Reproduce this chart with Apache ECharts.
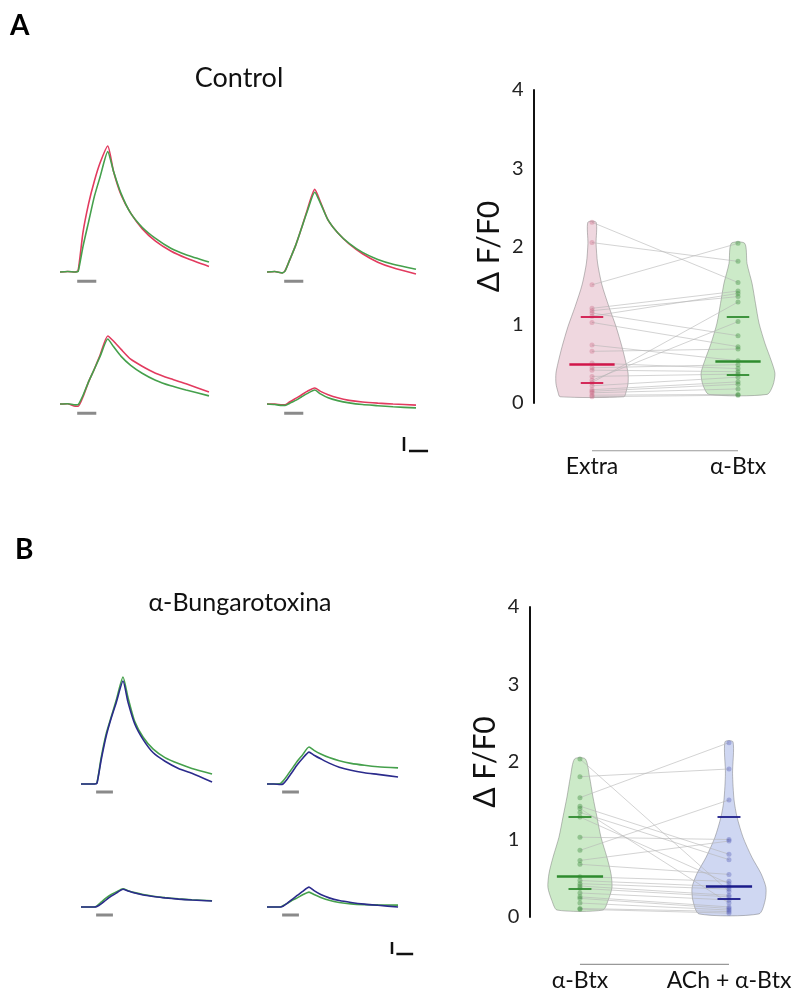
<!DOCTYPE html>
<html>
<head>
<meta charset="utf-8">
<script src="https://cdn.jsdelivr.net/npm/echarts@6/dist/echarts.min.js"></script>
<style>
  html, body { margin: 0; padding: 0; background: #fff; }
  #chart { width: 801px; height: 992px; }
</style>
</head>
<body>
<div id="chart"></div>
<script>
// time points (s) shared by all traces
var T = [0, 4, 8, 9.5, 12, 15, 18, 21, 25, 28, 32, 37, 43, 50, 58, 66, 78];
var stim = [9, 19];

// panel A traces (ΔF/F0): red = Extra, green = α-Btx
var a1Extra = [0, 0.02, 0, 0.05, 1.4, 2.45, 3.25, 3.9, 4.5, 3.6, 2.75, 2.1, 1.55, 1.1, 0.75, 0.5, 0.2];
var a1Btx   = [0, 0.02, 0, 0.02, 0.9, 1.8, 2.7, 3.4, 4.3, 3.6, 2.8, 2.1, 1.6, 1.2, 0.85, 0.62, 0.36];
var a2Extra = [0, 0.02, -0.03, 0.05, 0.45, 0.95, 1.55, 2.2, 2.95, 2.5, 1.85, 1.4, 1.0, 0.65, 0.35, 0.15, -0.07];
var a2Btx   = [0, 0.02, -0.03, 0.04, 0.45, 0.95, 1.55, 2.15, 2.85, 2.45, 1.85, 1.4, 1.02, 0.7, 0.45, 0.28, 0.1];
var a3Extra = [0, 0.01, -0.08, -0.08, 0.25, 0.8, 1.25, 1.75, 2.43, 2.25, 1.95, 1.6, 1.35, 1.1, 0.9, 0.72, 0.43];
var a3Btx   = [0, 0.01, -0.03, -0.02, 0.3, 0.8, 1.25, 1.7, 2.32, 2.05, 1.7, 1.38, 1.1, 0.85, 0.65, 0.5, 0.29];
var a4Extra = [0, 0, -0.03, -0.03, 0.08, 0.2, 0.32, 0.45, 0.57, 0.45, 0.33, 0.22, 0.13, 0.07, 0.03, 0, -0.04];
var a4Btx   = [0, -0.02, -0.05, -0.05, 0.03, 0.13, 0.25, 0.37, 0.5, 0.36, 0.22, 0.12, 0.04, -0.02, -0.06, -0.1, -0.14];

// panel B traces: green = α-Btx, blue = ACh + α-Btx
var b1Btx = [0, 0, 0, 0.05, 1.1, 2.1, 2.8, 3.5, 4.46, 3.6, 2.6, 1.95, 1.45, 1.1, 0.85, 0.65, 0.42];
var b1Ach = [0, 0, 0, 0.03, 1.0, 2.0, 2.75, 3.4, 4.29, 3.4, 2.5, 1.85, 1.3, 0.95, 0.65, 0.45, 0.08];
var b2Btx = [0, 0, 0.02, 0.12, 0.35, 0.65, 0.95, 1.2, 1.54, 1.4, 1.25, 1.1, 0.97, 0.86, 0.78, 0.72, 0.67];
var b2Ach = [0, 0, -0.02, 0, 0.2, 0.5, 0.8, 1.05, 1.33, 1.2, 1.05, 0.87, 0.7, 0.57, 0.47, 0.4, 0.29];
var b3Btx = [0, 0, 0, 0.05, 0.2, 0.38, 0.52, 0.63, 0.76, 0.68, 0.6, 0.52, 0.45, 0.39, 0.34, 0.3, 0.26];
var b3Ach = [0, 0, 0, 0.02, 0.13, 0.3, 0.45, 0.58, 0.74, 0.67, 0.58, 0.5, 0.44, 0.38, 0.33, 0.29, 0.25];
var b4Btx = [0, 0, 0, 0.05, 0.15, 0.28, 0.38, 0.5, 0.62, 0.52, 0.4, 0.28, 0.19, 0.13, 0.1, 0.09, 0.08];
var b4Ach = [0, 0, 0, 0.03, 0.15, 0.32, 0.48, 0.64, 0.83, 0.68, 0.52, 0.38, 0.27, 0.19, 0.12, 0.07, 0];

// paired amplitudes per cell
var extraA = [2.31, 2.05, 1.51, 1.21, 1.18, 1.15, 1.11, 1.03, 0.74, 0.66, 0.51, 0.45, 0.42, 0.34, 0.29, 0.26, 0.22, 0.17, 0.15, 0.13, 0.10, 0.08];
var btxA   = [1.54, 1.81, 2.04, 1.43, 1.36, 0.86, 1.40, 0.72, 0.54, 0.69, 0.44, 0.49, 0.40, 0.37, 1.04, 1.29, 0.33, 0.27, 0.24, 0.18, 0.11, 0.10];
var btxB   = [2.04, 1.81, 1.54, 1.43, 1.40, 1.35, 1.29, 1.03, 0.86, 0.73, 0.68, 0.52, 0.47, 0.43, 0.40, 0.37, 0.31, 0.26, 0.24, 0.18, 0.11, 0.10];
var achB   = [0.33, 1.91, 2.25, 0.81, 0.18, 0.74, 0.43, 1.00, 1.51, 0.98, 0.55, 0.46, 0.39, 0.36, 0.28, 0.26, 0.22, 0.13, 0.11, 0.09, 0.07, 0.05];

// quartile lines [Q1, median, Q3]
var statsExtraA = [0.26, 0.50, 1.10];
var statsBtxA   = [0.36, 0.53, 1.10];
var statsBtxB   = [0.36, 0.53, 1.29];
var statsAchB   = [0.24, 0.40, 1.29];

// violin outlines: levels (ΔF/F0) and half widths (category units)
var extraLevels = [2.31, 2.04, 1.79, 1.51, 1.23, 0.98, 0.72, 0.51, 0.38, 0.25, 0.14, 0.08];
var extraWidth  = [0.028, 0.028, 0.038, 0.068, 0.116, 0.164, 0.205, 0.233, 0.247, 0.247, 0.233, 0.219];
var btxALevels  = [2.04, 1.78, 1.53, 1.27, 1.02, 0.76, 0.55, 0.38, 0.23, 0.11];
var btxAWidth   = [0.046, 0.062, 0.096, 0.12, 0.144, 0.185, 0.226, 0.253, 0.24, 0.199];
var btxBLevels  = [2.04, 1.81, 1.55, 1.29, 1.03, 0.77, 0.56, 0.38, 0.21, 0.09];
var btxBWidth   = [0.036, 0.064, 0.087, 0.114, 0.141, 0.181, 0.208, 0.215, 0.188, 0.154];
var achBLevels  = [2.26, 1.85, 1.51, 1.29, 1.03, 0.77, 0.56, 0.38, 0.21, 0.04];
var achBWidth   = [0.027, 0.024, 0.034, 0.054, 0.094, 0.154, 0.215, 0.248, 0.242, 0.201];

var FONT = 'Lato, "Noto Sans", sans-serif';
var RED = '#e23b5f', GREEN = '#45a04c', BLUE = '#2b2b8c';

function zip(vals) {
  return T.map(function (t, i) { return [t, vals[i]]; });
}

var grids = [], xAxes = [], yAxes = [], series = [];

function addGrid(g, x, y) {
  grids.push(g);
  xAxes.push(Object.assign({ gridIndex: grids.length - 1 }, x));
  yAxes.push(Object.assign({ gridIndex: grids.length - 1 }, y));
  return grids.length - 1;
}

function tracePanel(left, baseline, pxS, pxU, lines) {
  var idx = addGrid(
    { left: left, top: baseline - 5 * pxU, width: 78 * pxS, height: 5.5 * pxU },
    { type: 'value', min: 0, max: 78, show: false },
    { type: 'value', min: -0.5, max: 5, show: false }
  );
  series.push({
    type: 'line', xAxisIndex: idx, yAxisIndex: idx, silent: true,
    data: [[stim[0], -0.33], [stim[1], -0.33]], showSymbol: false,
    lineStyle: { color: '#8a8a8a', width: 3 }
  });
  lines.forEach(function (l) {
    series.push({
      type: 'line', xAxisIndex: idx, yAxisIndex: idx, silent: true,
      data: zip(l[0]), showSymbol: false, smooth: 0.2,
      lineStyle: { color: l[1], width: 1.6 }
    });
  });
}

function scaleBar(left, bottom, pxS, pxU) {
  var idx = addGrid(
    { left: left, top: bottom - pxU, width: 20 * pxS, height: pxU },
    { type: 'value', min: 0, max: 20, show: false },
    { type: 'value', min: 0, max: 1, show: false }
  );
  series.push({
    type: 'line', xAxisIndex: idx, yAxisIndex: idx, silent: true, clip: false,
    data: [[0, 0.5], [0, 0]], showSymbol: false, lineStyle: { color: '#111', width: 2.5 }
  });
  series.push({
    type: 'line', xAxisIndex: idx, yAxisIndex: idx, silent: true, clip: false,
    data: [[2.6, 0], [12.6, 0]], showSymbol: false, lineStyle: { color: '#111', width: 2.5 }
  });
}

function violinPanel(box, xmin, names, groups) {
  var idx = addGrid(box,
    {
      type: 'value', min: xmin, max: 2.4,
      axisLine: { show: false }, splitLine: { show: false },
      axisTick: { show: false, customValues: [1, 2] },
      axisLabel: {
        customValues: [1, 2], margin: 52, fontSize: 23, color: '#111', fontFamily: FONT,
        formatter: function (v) { return names[Math.round(v) - 1]; }
      }
    },
    {
      type: 'value', min: 0, max: 4, interval: 1,
      name: 'Δ F/F0', nameLocation: 'middle', nameGap: 29, nameRotate: 90,
      nameTextStyle: { fontSize: 30, color: '#111', fontFamily: FONT },
      axisLine: { show: true, lineStyle: { color: '#111', width: 2 } },
      axisTick: { show: false }, splitLine: { show: false },
      axisLabel: { fontSize: 20, color: '#222', margin: 10, fontFamily: FONT }
    }
  );
  // violin bodies
  groups.forEach(function (g, k) {
    var c = k + 1;
    series.push({
      type: 'custom', xAxisIndex: idx, yAxisIndex: idx, silent: true, data: [0], z: 1,
      renderItem: function (params, api) {
        var right = [], left = [];
        for (var i = 0; i < g.levels.length; i++) {
          right.push(api.coord([c + g.widths[i], g.levels[i]]));
          left.unshift(api.coord([c - g.widths[i], g.levels[i]]));
        }
        return {
          type: 'polygon',
          shape: { points: right.concat(left), smooth: 0.25 },
          style: { fill: g.fill, stroke: 'rgba(110,110,110,0.45)', lineWidth: 1 }
        };
      }
    });
  });
  // paired lines
  series.push({
    type: 'lines', coordinateSystem: 'cartesian2d', xAxisIndex: idx, yAxisIndex: idx,
    silent: true, z: 2,
    data: groups[0].vals.map(function (v, i) { return { coords: [[1, v], [2, groups[1].vals[i]]] }; }),
    lineStyle: { color: '#b5b5b5', width: 0.7, opacity: 0.85 }
  });
  // points and quartile lines
  groups.forEach(function (g, k) {
    var c = k + 1;
    series.push({
      type: 'scatter', xAxisIndex: idx, yAxisIndex: idx, silent: true, z: 3,
      data: g.vals.map(function (v) { return [c, v]; }),
      symbolSize: 5, itemStyle: { color: g.dot }
    });
    series.push({
      type: 'lines', coordinateSystem: 'cartesian2d', xAxisIndex: idx, yAxisIndex: idx,
      silent: true, z: 4,
      data: g.stats.map(function (v, i) {
        var w = i === 1 ? 0.155 : 0.077;
        return { coords: [[c - w, v], [c + w, v]], lineStyle: { width: i === 1 ? 2.6 : 1.8 } };
      }),
      lineStyle: { color: g.med, opacity: 1 }
    });
  });
  // bracket under the groups
  series.push({
    type: 'line', xAxisIndex: idx, yAxisIndex: idx, silent: true, clip: false,
    data: [[1, -0.61], [2, -0.61]], showSymbol: false,
    lineStyle: { color: '#999', width: 1.2 }
  });
}

// panel A
tracePanel(60, 272, 1.91, 28, [[a1Extra, RED], [a1Btx, GREEN]]);
tracePanel(267, 272, 1.91, 28, [[a2Extra, RED], [a2Btx, GREEN]]);
tracePanel(60, 404, 1.91, 28, [[a3Extra, RED], [a3Btx, GREEN]]);
tracePanel(267, 404, 1.91, 28, [[a4Extra, RED], [a4Btx, GREEN]]);
scaleBar(404, 451, 1.91, 28);
violinPanel({ left: 533.6, top: 90, width: 262.8, height: 313 }, 0.6, ['Extra', 'α-Btx'], [
  { vals: extraA, stats: statsExtraA, levels: extraLevels, widths: extraWidth,
    fill: 'rgba(214,150,170,0.38)', dot: 'rgba(200,90,120,0.4)', med: '#d1164a' },
  { vals: btxA, stats: statsBtxA, levels: btxALevels, widths: btxAWidth,
    fill: 'rgba(120,200,110,0.38)', dot: 'rgba(60,140,60,0.5)', med: '#2e8b2e' }
]);

// panel B
tracePanel(81, 784, 1.68, 24, [[b1Btx, GREEN], [b1Ach, BLUE]]);
tracePanel(267, 784, 1.68, 24, [[b2Btx, GREEN], [b2Ach, BLUE]]);
tracePanel(81, 907, 1.68, 24, [[b3Btx, GREEN], [b3Ach, BLUE]]);
tracePanel(267, 907, 1.68, 24, [[b4Btx, GREEN], [b4Ach, BLUE]]);
scaleBar(392, 954, 1.68, 24);
violinPanel({ left: 529.3, top: 607, width: 259.3, height: 310 }, 0.66, ['α-Btx', 'ACh + α-Btx'], [
  { vals: btxB, stats: statsBtxB, levels: btxBLevels, widths: btxBWidth,
    fill: 'rgba(120,200,110,0.38)', dot: 'rgba(60,140,60,0.5)', med: '#2e8b2e' },
  { vals: achB, stats: statsAchB, levels: achBLevels, widths: achBWidth,
    fill: 'rgba(130,150,220,0.38)', dot: 'rgba(80,90,180,0.45)', med: '#1b1b8a' }
]);

var chart = echarts.init(document.getElementById('chart'));
chart.setOption({
  animation: false,
  backgroundColor: '#fff',
  grid: grids,
  xAxis: xAxes,
  yAxis: yAxes,
  series: series,
  graphic: [
    { type: 'text', x: 10, y: 12, style: { text: 'A', font: 'bold 28px ' + FONT, fill: '#000' } },
    { type: 'text', x: 15, y: 536, style: { text: 'B', font: 'bold 28px ' + FONT, fill: '#000' } },
    { type: 'text', x: 239, y: 78, style: { text: 'Control', font: '27px ' + FONT, fill: '#111', align: 'center', verticalAlign: 'middle' } },
    { type: 'text', x: 240, y: 603, style: { text: 'α-Bungarotoxina', font: '25px ' + FONT, fill: '#111', align: 'center', verticalAlign: 'middle' } }
  ]
});
</script>
</body>
</html>
